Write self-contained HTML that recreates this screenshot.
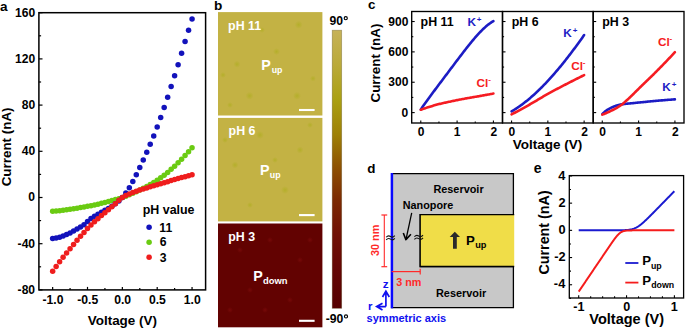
<!DOCTYPE html>
<html><head><meta charset="utf-8"><style>
html,body{margin:0;padding:0;background:#fff;overflow:hidden}
svg{display:block}
text{font-family:"Liberation Sans",sans-serif;font-weight:bold}
</style></head><body>
<svg width="685" height="329" viewBox="0 0 685 329">
<rect x="38.9" y="12.7" width="166.70" height="277.20" fill="none" stroke="#000" stroke-width="1.5"/>
<line x1="38.90" y1="289.90" x2="42.50" y2="289.90" stroke="#000" stroke-width="1.2" />
<text transform="translate(17.60 293.80)" font-size="12.1" fill="#000" >-80</text>
<line x1="38.90" y1="266.80" x2="41.10" y2="266.80" stroke="#000" stroke-width="1.2" />
<line x1="38.90" y1="243.70" x2="42.50" y2="243.70" stroke="#000" stroke-width="1.2" />
<text transform="translate(17.60 247.60)" font-size="12.1" fill="#000" >-40</text>
<line x1="38.90" y1="220.60" x2="41.10" y2="220.60" stroke="#000" stroke-width="1.2" />
<line x1="38.90" y1="197.50" x2="42.50" y2="197.50" stroke="#000" stroke-width="1.2" />
<text transform="translate(28.37 201.40)" font-size="12.1" fill="#000" >0</text>
<line x1="38.90" y1="174.40" x2="41.10" y2="174.40" stroke="#000" stroke-width="1.2" />
<line x1="38.90" y1="151.30" x2="42.50" y2="151.30" stroke="#000" stroke-width="1.2" />
<text transform="translate(21.65 155.20)" font-size="12.1" fill="#000" >40</text>
<line x1="38.90" y1="128.20" x2="41.10" y2="128.20" stroke="#000" stroke-width="1.2" />
<line x1="38.90" y1="105.10" x2="42.50" y2="105.10" stroke="#000" stroke-width="1.2" />
<text transform="translate(21.65 109.00)" font-size="12.1" fill="#000" >80</text>
<line x1="38.90" y1="82.00" x2="41.10" y2="82.00" stroke="#000" stroke-width="1.2" />
<line x1="38.90" y1="58.90" x2="42.50" y2="58.90" stroke="#000" stroke-width="1.2" />
<text transform="translate(14.94 62.80)" font-size="12.1" fill="#000" >120</text>
<line x1="38.90" y1="35.80" x2="41.10" y2="35.80" stroke="#000" stroke-width="1.2" />
<line x1="38.90" y1="12.70" x2="42.50" y2="12.70" stroke="#000" stroke-width="1.2" />
<text transform="translate(14.94 16.60)" font-size="12.1" fill="#000" >160</text>
<line x1="52.65" y1="289.90" x2="52.65" y2="286.90" stroke="#000" stroke-width="1.2" />
<text transform="translate(42.46 303.50)" font-size="12.2" fill="#000" >-1.0</text>
<line x1="70.07" y1="289.90" x2="70.07" y2="287.90" stroke="#000" stroke-width="1.2" />
<line x1="87.50" y1="289.90" x2="87.50" y2="286.90" stroke="#000" stroke-width="1.2" />
<text transform="translate(77.22 303.50)" font-size="12.2" fill="#000" >-0.5</text>
<line x1="104.92" y1="289.90" x2="104.92" y2="287.90" stroke="#000" stroke-width="1.2" />
<line x1="122.35" y1="289.90" x2="122.35" y2="286.90" stroke="#000" stroke-width="1.2" />
<text transform="translate(114.17 303.50)" font-size="12.2" fill="#000" >0.0</text>
<line x1="139.78" y1="289.90" x2="139.78" y2="287.90" stroke="#000" stroke-width="1.2" />
<line x1="157.20" y1="289.90" x2="157.20" y2="286.90" stroke="#000" stroke-width="1.2" />
<text transform="translate(148.93 303.50)" font-size="12.2" fill="#000" >0.5</text>
<line x1="174.62" y1="289.90" x2="174.62" y2="287.90" stroke="#000" stroke-width="1.2" />
<line x1="192.05" y1="289.90" x2="192.05" y2="286.90" stroke="#000" stroke-width="1.2" />
<text transform="translate(183.72 303.50)" font-size="12.2" fill="#000" >1.0</text>
<text transform="translate(11.21 186.30) scale(1.0 1) rotate(-90)" font-size="13.4" fill="#000">Current (nA)</text>
<text transform="translate(87.77 325.40)" font-size="13.45" fill="#000" >Voltage (V)</text>
<text transform="translate(-0.11 10.50)" font-size="13.6" fill="#000" >a</text>
<circle cx="52.65" cy="211.36" r="2.75" fill="#6acb12"/>
<circle cx="56.13" cy="211.04" r="2.75" fill="#6acb12"/>
<circle cx="59.62" cy="210.67" r="2.75" fill="#6acb12"/>
<circle cx="63.10" cy="210.26" r="2.75" fill="#6acb12"/>
<circle cx="66.59" cy="209.80" r="2.75" fill="#6acb12"/>
<circle cx="70.07" cy="209.30" r="2.75" fill="#6acb12"/>
<circle cx="73.56" cy="208.77" r="2.75" fill="#6acb12"/>
<circle cx="77.04" cy="208.21" r="2.75" fill="#6acb12"/>
<circle cx="80.53" cy="207.62" r="2.75" fill="#6acb12"/>
<circle cx="84.01" cy="207.01" r="2.75" fill="#6acb12"/>
<circle cx="87.50" cy="206.37" r="2.75" fill="#6acb12"/>
<circle cx="90.98" cy="205.72" r="2.75" fill="#6acb12"/>
<circle cx="94.47" cy="205.01" r="2.75" fill="#6acb12"/>
<circle cx="97.95" cy="204.23" r="2.75" fill="#6acb12"/>
<circle cx="101.44" cy="203.37" r="2.75" fill="#6acb12"/>
<circle cx="104.92" cy="202.47" r="2.75" fill="#6acb12"/>
<circle cx="108.41" cy="201.54" r="2.75" fill="#6acb12"/>
<circle cx="111.89" cy="200.58" r="2.75" fill="#6acb12"/>
<circle cx="115.38" cy="199.62" r="2.75" fill="#6acb12"/>
<circle cx="118.86" cy="198.63" r="2.75" fill="#6acb12"/>
<circle cx="122.35" cy="197.50" r="2.75" fill="#6acb12"/>
<circle cx="125.83" cy="196.21" r="2.75" fill="#6acb12"/>
<circle cx="129.32" cy="194.83" r="2.75" fill="#6acb12"/>
<circle cx="132.81" cy="193.35" r="2.75" fill="#6acb12"/>
<circle cx="136.29" cy="191.78" r="2.75" fill="#6acb12"/>
<circle cx="139.78" cy="190.10" r="2.75" fill="#6acb12"/>
<circle cx="143.26" cy="188.33" r="2.75" fill="#6acb12"/>
<circle cx="146.75" cy="186.45" r="2.75" fill="#6acb12"/>
<circle cx="150.23" cy="184.47" r="2.75" fill="#6acb12"/>
<circle cx="153.72" cy="182.38" r="2.75" fill="#6acb12"/>
<circle cx="157.20" cy="180.18" r="2.75" fill="#6acb12"/>
<circle cx="160.69" cy="177.80" r="2.75" fill="#6acb12"/>
<circle cx="164.17" cy="175.20" r="2.75" fill="#6acb12"/>
<circle cx="167.66" cy="172.38" r="2.75" fill="#6acb12"/>
<circle cx="171.14" cy="169.37" r="2.75" fill="#6acb12"/>
<circle cx="174.62" cy="166.17" r="2.75" fill="#6acb12"/>
<circle cx="178.11" cy="162.79" r="2.75" fill="#6acb12"/>
<circle cx="181.59" cy="159.26" r="2.75" fill="#6acb12"/>
<circle cx="185.08" cy="155.58" r="2.75" fill="#6acb12"/>
<circle cx="188.56" cy="151.77" r="2.75" fill="#6acb12"/>
<circle cx="192.05" cy="147.84" r="2.75" fill="#6acb12"/>
<circle cx="52.65" cy="238.62" r="2.75" fill="#1212bb"/>
<circle cx="56.13" cy="238.11" r="2.75" fill="#1212bb"/>
<circle cx="59.62" cy="237.25" r="2.75" fill="#1212bb"/>
<circle cx="63.10" cy="236.07" r="2.75" fill="#1212bb"/>
<circle cx="66.59" cy="234.61" r="2.75" fill="#1212bb"/>
<circle cx="70.07" cy="232.93" r="2.75" fill="#1212bb"/>
<circle cx="73.56" cy="231.06" r="2.75" fill="#1212bb"/>
<circle cx="77.04" cy="229.06" r="2.75" fill="#1212bb"/>
<circle cx="80.53" cy="226.96" r="2.75" fill="#1212bb"/>
<circle cx="84.01" cy="224.68" r="2.75" fill="#1212bb"/>
<circle cx="87.50" cy="221.48" r="2.75" fill="#1212bb"/>
<circle cx="90.98" cy="218.51" r="2.75" fill="#1212bb"/>
<circle cx="94.47" cy="216.19" r="2.75" fill="#1212bb"/>
<circle cx="97.95" cy="214.14" r="2.75" fill="#1212bb"/>
<circle cx="101.44" cy="212.24" r="2.75" fill="#1212bb"/>
<circle cx="104.92" cy="210.37" r="2.75" fill="#1212bb"/>
<circle cx="108.41" cy="208.42" r="2.75" fill="#1212bb"/>
<circle cx="111.89" cy="206.26" r="2.75" fill="#1212bb"/>
<circle cx="115.38" cy="203.79" r="2.75" fill="#1212bb"/>
<circle cx="118.86" cy="200.98" r="2.75" fill="#1212bb"/>
<circle cx="122.35" cy="197.50" r="2.75" fill="#1212bb"/>
<circle cx="125.83" cy="193.04" r="2.75" fill="#1212bb"/>
<circle cx="129.32" cy="187.65" r="2.75" fill="#1212bb"/>
<circle cx="132.81" cy="181.49" r="2.75" fill="#1212bb"/>
<circle cx="136.29" cy="174.71" r="2.75" fill="#1212bb"/>
<circle cx="139.78" cy="167.45" r="2.75" fill="#1212bb"/>
<circle cx="143.26" cy="159.88" r="2.75" fill="#1212bb"/>
<circle cx="146.75" cy="152.13" r="2.75" fill="#1212bb"/>
<circle cx="150.23" cy="144.37" r="2.75" fill="#1212bb"/>
<circle cx="153.72" cy="136.08" r="2.75" fill="#1212bb"/>
<circle cx="157.20" cy="127.05" r="2.75" fill="#1212bb"/>
<circle cx="160.69" cy="117.45" r="2.75" fill="#1212bb"/>
<circle cx="164.17" cy="107.41" r="2.75" fill="#1212bb"/>
<circle cx="167.66" cy="97.16" r="2.75" fill="#1212bb"/>
<circle cx="171.14" cy="86.62" r="2.75" fill="#1212bb"/>
<circle cx="174.62" cy="75.79" r="2.75" fill="#1212bb"/>
<circle cx="178.11" cy="64.67" r="2.75" fill="#1212bb"/>
<circle cx="181.59" cy="53.16" r="2.75" fill="#1212bb"/>
<circle cx="185.08" cy="41.57" r="2.75" fill="#1212bb"/>
<circle cx="188.56" cy="30.24" r="2.75" fill="#1212bb"/>
<circle cx="192.05" cy="19.05" r="2.75" fill="#1212bb"/>
<circle cx="52.65" cy="271.19" r="2.75" fill="#ef1d1d"/>
<circle cx="56.13" cy="266.47" r="2.75" fill="#ef1d1d"/>
<circle cx="59.62" cy="261.87" r="2.75" fill="#ef1d1d"/>
<circle cx="63.10" cy="257.36" r="2.75" fill="#ef1d1d"/>
<circle cx="66.59" cy="252.96" r="2.75" fill="#ef1d1d"/>
<circle cx="70.07" cy="248.66" r="2.75" fill="#ef1d1d"/>
<circle cx="73.56" cy="244.46" r="2.75" fill="#ef1d1d"/>
<circle cx="77.04" cy="240.35" r="2.75" fill="#ef1d1d"/>
<circle cx="80.53" cy="236.31" r="2.75" fill="#ef1d1d"/>
<circle cx="84.01" cy="232.38" r="2.75" fill="#ef1d1d"/>
<circle cx="87.50" cy="228.62" r="2.75" fill="#ef1d1d"/>
<circle cx="90.98" cy="225.09" r="2.75" fill="#ef1d1d"/>
<circle cx="94.47" cy="221.77" r="2.75" fill="#ef1d1d"/>
<circle cx="97.95" cy="218.63" r="2.75" fill="#ef1d1d"/>
<circle cx="101.44" cy="215.61" r="2.75" fill="#ef1d1d"/>
<circle cx="104.92" cy="212.65" r="2.75" fill="#ef1d1d"/>
<circle cx="108.41" cy="209.71" r="2.75" fill="#ef1d1d"/>
<circle cx="111.89" cy="206.75" r="2.75" fill="#ef1d1d"/>
<circle cx="115.38" cy="203.68" r="2.75" fill="#ef1d1d"/>
<circle cx="118.86" cy="200.35" r="2.75" fill="#ef1d1d"/>
<circle cx="122.35" cy="197.50" r="2.75" fill="#ef1d1d"/>
<circle cx="125.83" cy="195.50" r="2.75" fill="#ef1d1d"/>
<circle cx="129.32" cy="193.89" r="2.75" fill="#ef1d1d"/>
<circle cx="132.81" cy="192.50" r="2.75" fill="#ef1d1d"/>
<circle cx="136.29" cy="191.22" r="2.75" fill="#ef1d1d"/>
<circle cx="139.78" cy="190.05" r="2.75" fill="#ef1d1d"/>
<circle cx="143.26" cy="188.94" r="2.75" fill="#ef1d1d"/>
<circle cx="146.75" cy="187.89" r="2.75" fill="#ef1d1d"/>
<circle cx="150.23" cy="186.87" r="2.75" fill="#ef1d1d"/>
<circle cx="153.72" cy="185.84" r="2.75" fill="#ef1d1d"/>
<circle cx="157.20" cy="184.79" r="2.75" fill="#ef1d1d"/>
<circle cx="160.69" cy="183.73" r="2.75" fill="#ef1d1d"/>
<circle cx="164.17" cy="182.68" r="2.75" fill="#ef1d1d"/>
<circle cx="167.66" cy="181.64" r="2.75" fill="#ef1d1d"/>
<circle cx="171.14" cy="180.62" r="2.75" fill="#ef1d1d"/>
<circle cx="174.62" cy="179.60" r="2.75" fill="#ef1d1d"/>
<circle cx="178.11" cy="178.60" r="2.75" fill="#ef1d1d"/>
<circle cx="181.59" cy="177.62" r="2.75" fill="#ef1d1d"/>
<circle cx="185.08" cy="176.65" r="2.75" fill="#ef1d1d"/>
<circle cx="188.56" cy="175.69" r="2.75" fill="#ef1d1d"/>
<circle cx="192.05" cy="174.75" r="2.75" fill="#ef1d1d"/>
<text transform="translate(142.69 213.90)" font-size="12.45" fill="#000" >pH value</text>
<circle cx="149.1" cy="227.3" r="2.75" fill="#1212bb"/>
<text transform="translate(159.31 231.50)" font-size="12.2" fill="#000" >11</text>
<circle cx="149.1" cy="242.2" r="2.75" fill="#6acb12"/>
<text transform="translate(159.67 246.40)" font-size="12.2" fill="#000" >6</text>
<circle cx="149.1" cy="257.3" r="2.75" fill="#ef1d1d"/>
<text transform="translate(159.79 261.50)" font-size="12.2" fill="#000" >3</text>
<rect x="218.0" y="12.1" width="104.40" height="103.40" fill="#c3b244"/>
<rect x="218.0" y="117.9" width="104.40" height="103.50" fill="#c3b244"/>
<rect x="218.0" y="223.5" width="104.40" height="103.80" fill="#620201"/>
<defs><radialGradient id="sg"><stop offset="0" stop-color="#a6ac10" stop-opacity="0.5"/><stop offset="1" stop-color="#a6ac10" stop-opacity="0"/></radialGradient><radialGradient id="sr"><stop offset="0" stop-color="#8a1010" stop-opacity="0.5"/><stop offset="1" stop-color="#8a1010" stop-opacity="0"/></radialGradient></defs>
<circle cx="298.7" cy="24.7" r="4" fill="url(#sg)"/>
<circle cx="276.5" cy="51.6" r="3.5" fill="url(#sg)"/>
<circle cx="237" cy="64.2" r="3.5" fill="url(#sg)"/>
<circle cx="313" cy="78.5" r="3" fill="url(#sg)"/>
<circle cx="249.6" cy="95.8" r="4" fill="url(#sg)"/>
<circle cx="297" cy="95.8" r="4" fill="url(#sg)"/>
<circle cx="223" cy="75" r="3" fill="url(#sg)"/>
<circle cx="262" cy="30" r="3" fill="url(#sg)"/>
<circle cx="230" cy="105" r="3" fill="url(#sg)"/>
<circle cx="260" cy="135" r="4" fill="url(#sg)"/>
<circle cx="300" cy="150" r="3.5" fill="url(#sg)"/>
<circle cx="235" cy="165" r="3.5" fill="url(#sg)"/>
<circle cx="285" cy="190" r="4" fill="url(#sg)"/>
<circle cx="250" cy="205" r="3" fill="url(#sg)"/>
<circle cx="310" cy="125" r="3" fill="url(#sg)"/>
<circle cx="225" cy="140" r="3" fill="url(#sg)"/>
<circle cx="275" cy="160" r="3" fill="url(#sg)"/>
<circle cx="240" cy="250" r="3" fill="url(#sr)"/>
<circle cx="270" cy="240" r="3" fill="url(#sr)"/>
<circle cx="300" cy="260" r="3" fill="url(#sr)"/>
<circle cx="250" cy="290" r="3" fill="url(#sr)"/>
<circle cx="290" cy="300" r="3" fill="url(#sr)"/>
<circle cx="230" cy="310" r="3" fill="url(#sr)"/>
<circle cx="310" cy="240" r="3" fill="url(#sr)"/>
<circle cx="265" cy="310" r="3" fill="url(#sr)"/>
<text transform="translate(228.09 29.70)" font-size="12.4" fill="#fff" >pH 11</text>
<text transform="translate(228.59 134.80)" font-size="12.4" fill="#fff" >pH 6</text>
<text transform="translate(228.19 241.00)" font-size="12.4" fill="#fff" >pH 3</text>
<text transform="translate(261.37 69.80)" font-size="14.3" fill="#fff" >P</text>
<text transform="translate(271.67 73.10)" font-size="8.8" fill="#fff" >up</text>
<text transform="translate(259.97 174.60)" font-size="14.3" fill="#fff" >P</text>
<text transform="translate(269.77 178.10)" font-size="8.8" fill="#fff" >up</text>
<text transform="translate(253.27 280.60)" font-size="14.3" fill="#fff" >P</text>
<text transform="translate(263.02 284.00)" font-size="9.4" fill="#fff" >down</text>
<line x1="299.00" y1="110.00" x2="314.60" y2="110.00" stroke="#fff" stroke-width="2.1" />
<line x1="299.00" y1="215.10" x2="314.60" y2="215.10" stroke="#fff" stroke-width="2.1" />
<line x1="299.00" y1="320.80" x2="314.60" y2="320.80" stroke="#fff" stroke-width="2.1" />
<defs><linearGradient id="cb" x1="0" y1="0" x2="0" y2="1"><stop offset="0" stop-color="rgb(198,178,88)"/><stop offset="0.126" stop-color="rgb(186,170,58)"/><stop offset="0.25" stop-color="rgb(170,160,18)"/><stop offset="0.376" stop-color="rgb(158,128,6)"/><stop offset="0.5" stop-color="rgb(140,78,2)"/><stop offset="0.61" stop-color="rgb(124,42,2)"/><stop offset="0.735" stop-color="rgb(112,16,4)"/><stop offset="0.86" stop-color="rgb(100,5,4)"/><stop offset="1" stop-color="rgb(86,0,0)"/></linearGradient></defs>
<rect x="332.2" y="30.2" width="9.5" height="278.1" fill="url(#cb)" stroke="rgba(90,80,40,0.45)" stroke-width="0.7"/>
<text transform="translate(329.45 24.60)" font-size="12.2" fill="#000" >90</text>
<text transform="translate(325.76 322.50)" font-size="12.2" fill="#000" >-90</text>
<circle cx="345.75" cy="18.2" r="1.55" fill="none" stroke="#000" stroke-width="1.15"/>
<circle cx="346.0" cy="316.4" r="1.55" fill="none" stroke="#000" stroke-width="1.15"/>
<text transform="translate(213.92 10.30)" font-size="13.6" fill="#000" >b</text>
<rect x="411.7" y="11.5" width="90.80" height="111.50" fill="none" stroke="#000" stroke-width="1.35"/>
<rect x="502.5" y="11.5" width="90.70" height="111.50" fill="none" stroke="#000" stroke-width="1.35"/>
<rect x="593.2" y="11.5" width="90.80" height="111.50" fill="none" stroke="#000" stroke-width="1.35"/>
<line x1="411.70" y1="112.60" x2="414.70" y2="112.60" stroke="#000" stroke-width="1.1" />
<line x1="411.70" y1="97.42" x2="413.30" y2="97.42" stroke="#000" stroke-width="1.1" />
<line x1="411.70" y1="82.24" x2="414.70" y2="82.24" stroke="#000" stroke-width="1.1" />
<line x1="411.70" y1="67.06" x2="413.30" y2="67.06" stroke="#000" stroke-width="1.1" />
<line x1="411.70" y1="51.88" x2="414.70" y2="51.88" stroke="#000" stroke-width="1.1" />
<line x1="411.70" y1="36.70" x2="413.30" y2="36.70" stroke="#000" stroke-width="1.1" />
<line x1="411.70" y1="21.52" x2="414.70" y2="21.52" stroke="#000" stroke-width="1.1" />
<line x1="420.78" y1="123.00" x2="420.78" y2="120.40" stroke="#000" stroke-width="1.1" />
<text transform="translate(417.75 135.90)" font-size="12.0" fill="#000" >0</text>
<line x1="438.94" y1="123.00" x2="438.94" y2="121.40" stroke="#000" stroke-width="1.1" />
<line x1="457.10" y1="123.00" x2="457.10" y2="120.40" stroke="#000" stroke-width="1.1" />
<text transform="translate(453.83 135.90)" font-size="12.0" fill="#000" >1</text>
<line x1="475.26" y1="123.00" x2="475.26" y2="121.40" stroke="#000" stroke-width="1.1" />
<line x1="493.42" y1="123.00" x2="493.42" y2="120.40" stroke="#000" stroke-width="1.1" />
<text transform="translate(490.42 135.90)" font-size="12.0" fill="#000" >2</text>
<line x1="502.50" y1="112.60" x2="505.50" y2="112.60" stroke="#000" stroke-width="1.1" />
<line x1="502.50" y1="97.42" x2="504.10" y2="97.42" stroke="#000" stroke-width="1.1" />
<line x1="502.50" y1="82.24" x2="505.50" y2="82.24" stroke="#000" stroke-width="1.1" />
<line x1="502.50" y1="67.06" x2="504.10" y2="67.06" stroke="#000" stroke-width="1.1" />
<line x1="502.50" y1="51.88" x2="505.50" y2="51.88" stroke="#000" stroke-width="1.1" />
<line x1="502.50" y1="36.70" x2="504.10" y2="36.70" stroke="#000" stroke-width="1.1" />
<line x1="502.50" y1="21.52" x2="505.50" y2="21.52" stroke="#000" stroke-width="1.1" />
<line x1="511.57" y1="123.00" x2="511.57" y2="120.40" stroke="#000" stroke-width="1.1" />
<text transform="translate(508.54 135.90)" font-size="12.0" fill="#000" >0</text>
<line x1="529.71" y1="123.00" x2="529.71" y2="121.40" stroke="#000" stroke-width="1.1" />
<line x1="547.85" y1="123.00" x2="547.85" y2="120.40" stroke="#000" stroke-width="1.1" />
<text transform="translate(544.58 135.90)" font-size="12.0" fill="#000" >1</text>
<line x1="565.99" y1="123.00" x2="565.99" y2="121.40" stroke="#000" stroke-width="1.1" />
<line x1="584.13" y1="123.00" x2="584.13" y2="120.40" stroke="#000" stroke-width="1.1" />
<text transform="translate(581.13 135.90)" font-size="12.0" fill="#000" >2</text>
<line x1="593.20" y1="112.60" x2="596.20" y2="112.60" stroke="#000" stroke-width="1.1" />
<line x1="593.20" y1="97.42" x2="594.80" y2="97.42" stroke="#000" stroke-width="1.1" />
<line x1="593.20" y1="82.24" x2="596.20" y2="82.24" stroke="#000" stroke-width="1.1" />
<line x1="593.20" y1="67.06" x2="594.80" y2="67.06" stroke="#000" stroke-width="1.1" />
<line x1="593.20" y1="51.88" x2="596.20" y2="51.88" stroke="#000" stroke-width="1.1" />
<line x1="593.20" y1="36.70" x2="594.80" y2="36.70" stroke="#000" stroke-width="1.1" />
<line x1="593.20" y1="21.52" x2="596.20" y2="21.52" stroke="#000" stroke-width="1.1" />
<line x1="602.28" y1="123.00" x2="602.28" y2="120.40" stroke="#000" stroke-width="1.1" />
<text transform="translate(599.25 135.90)" font-size="12.0" fill="#000" >0</text>
<line x1="620.44" y1="123.00" x2="620.44" y2="121.40" stroke="#000" stroke-width="1.1" />
<line x1="638.60" y1="123.00" x2="638.60" y2="120.40" stroke="#000" stroke-width="1.1" />
<text transform="translate(635.33 135.90)" font-size="12.0" fill="#000" >1</text>
<line x1="656.76" y1="123.00" x2="656.76" y2="121.40" stroke="#000" stroke-width="1.1" />
<line x1="674.92" y1="123.00" x2="674.92" y2="120.40" stroke="#000" stroke-width="1.1" />
<text transform="translate(671.92 135.90)" font-size="12.0" fill="#000" >2</text>
<text transform="translate(401.62 116.60)" font-size="12.0" fill="#000" >0</text>
<text transform="translate(388.30 86.24)" font-size="12.0" fill="#000" >300</text>
<text transform="translate(388.30 55.88)" font-size="12.0" fill="#000" >600</text>
<text transform="translate(388.30 25.52)" font-size="12.0" fill="#000" >900</text>
<text transform="translate(379.91 102.50) scale(1.0 1) rotate(-90)" font-size="13.4" fill="#000">Current (nA)</text>
<text transform="translate(512.76 149.10)" font-size="13.5" fill="#000" >Voltage (V)</text>
<text transform="translate(367.96 9.00)" font-size="13.4" fill="#000" >c</text>
<polyline points="420.78,109.43 421.69,108.12 422.60,106.82 423.50,105.54 424.41,104.26 425.32,102.99 426.23,101.73 427.14,100.47 428.04,99.23 428.95,97.98 429.86,96.75 430.77,95.51 431.68,94.28 432.58,93.06 433.49,91.84 434.40,90.62 435.31,89.40 436.22,88.19 437.12,86.98 438.03,85.76 438.94,84.55 439.85,83.34 440.76,82.14 441.66,80.93 442.57,79.72 443.48,78.51 444.39,77.30 445.30,76.09 446.20,74.88 447.11,73.67 448.02,72.46 448.93,71.26 449.84,70.05 450.74,68.84 451.65,67.63 452.56,66.42 453.47,65.21 454.38,64.00 455.28,62.80 456.19,61.59 457.10,60.39 458.01,59.19 458.92,57.99 459.82,56.80 460.73,55.61 461.64,54.42 462.55,53.23 463.46,52.05 464.36,50.88 465.27,49.71 466.18,48.55 467.09,47.40 468.00,46.25 468.90,45.11 469.81,43.99 470.72,42.87 471.63,41.76 472.54,40.67 473.44,39.59 474.35,38.52 475.26,37.46 476.17,36.42 477.08,35.40 477.98,34.40 478.89,33.41 479.80,32.44 480.71,31.50 481.62,30.57 482.52,29.67 483.43,28.79 484.34,27.94 485.25,27.12 486.16,26.32 487.06,25.55 487.97,24.82 488.88,24.11 489.79,23.44 490.70,22.80 491.60,22.20 492.51,21.64 493.42,21.11" fill="none" stroke="#1c1cc4" stroke-width="2.6" stroke-linecap="round" stroke-linejoin="round"/>
<polyline points="420.78,109.77 421.69,109.44 422.60,109.13 423.50,108.81 424.41,108.50 425.32,108.20 426.23,107.89 427.14,107.60 428.04,107.30 428.95,107.01 429.86,106.73 430.77,106.45 431.68,106.17 432.58,105.89 433.49,105.62 434.40,105.35 435.31,105.09 436.22,104.83 437.12,104.58 438.03,104.33 438.94,104.10 439.85,103.87 440.76,103.65 441.66,103.43 442.57,103.22 443.48,103.02 444.39,102.81 445.30,102.61 446.20,102.42 447.11,102.22 448.02,102.03 448.93,101.84 449.84,101.65 450.74,101.46 451.65,101.27 452.56,101.08 453.47,100.89 454.38,100.70 455.28,100.51 456.19,100.33 457.10,100.14 458.01,99.96 458.92,99.78 459.82,99.60 460.73,99.43 461.64,99.25 462.55,99.08 463.46,98.91 464.36,98.74 465.27,98.57 466.18,98.40 467.09,98.24 468.00,98.08 468.90,97.92 469.81,97.77 470.72,97.61 471.63,97.46 472.54,97.30 473.44,97.15 474.35,96.99 475.26,96.84 476.17,96.68 477.08,96.52 477.98,96.37 478.89,96.21 479.80,96.04 480.71,95.88 481.62,95.72 482.52,95.56 483.43,95.39 484.34,95.23 485.25,95.07 486.16,94.90 487.06,94.74 487.97,94.57 488.88,94.41 489.79,94.24 490.70,94.08 491.60,93.91 492.51,93.74 493.42,93.57" fill="none" stroke="#f51c22" stroke-width="2.6" stroke-linecap="round" stroke-linejoin="round"/>
<polyline points="511.57,111.37 512.48,110.84 513.38,110.30 514.29,109.74 515.20,109.18 516.11,108.59 517.01,108.00 517.92,107.39 518.83,106.78 519.73,106.14 520.64,105.50 521.55,104.85 522.45,104.18 523.36,103.50 524.27,102.81 525.17,102.10 526.08,101.39 526.99,100.66 527.90,99.92 528.80,99.17 529.71,98.41 530.62,97.63 531.52,96.85 532.43,96.05 533.34,95.24 534.25,94.43 535.15,93.60 536.06,92.76 536.97,91.91 537.87,91.04 538.78,90.17 539.69,89.29 540.59,88.40 541.50,87.49 542.41,86.58 543.32,85.66 544.22,84.72 545.13,83.78 546.04,82.83 546.94,81.86 547.85,80.89 548.76,79.91 549.66,78.92 550.57,77.92 551.48,76.90 552.38,75.89 553.29,74.86 554.20,73.82 555.11,72.77 556.01,71.72 556.92,70.65 557.83,69.58 558.73,68.50 559.64,67.41 560.55,66.31 561.46,65.20 562.36,64.09 563.27,62.96 564.18,61.83 565.08,60.69 565.99,59.54 566.90,58.39 567.80,57.23 568.71,56.06 569.62,54.88 570.53,53.69 571.43,52.50 572.34,51.30 573.25,50.09 574.15,48.88 575.06,47.66 575.97,46.43 576.87,45.20 577.78,43.96 578.69,42.71 579.60,41.45 580.50,40.19 581.41,38.92 582.32,37.65 583.22,36.37 584.13,35.09" fill="none" stroke="#1c1cc4" stroke-width="2.6" stroke-linecap="round" stroke-linejoin="round"/>
<polyline points="511.57,114.42 512.48,113.94 513.38,113.46 514.29,112.98 515.20,112.49 516.11,112.01 517.01,111.52 517.92,111.03 518.83,110.54 519.73,110.04 520.64,109.55 521.55,109.05 522.45,108.55 523.36,108.05 524.27,107.55 525.17,107.05 526.08,106.54 526.99,106.04 527.90,105.53 528.80,105.02 529.71,104.50 530.62,103.99 531.52,103.47 532.43,102.94 533.34,102.41 534.25,101.87 535.15,101.34 536.06,100.80 536.97,100.26 537.87,99.71 538.78,99.17 539.69,98.63 540.59,98.09 541.50,97.55 542.41,97.01 543.32,96.48 544.22,95.95 545.13,95.42 546.04,94.90 546.94,94.39 547.85,93.88 548.76,93.37 549.66,92.88 550.57,92.38 551.48,91.89 552.38,91.39 553.29,90.91 554.20,90.42 555.11,89.94 556.01,89.46 556.92,88.98 557.83,88.50 558.73,88.03 559.64,87.55 560.55,87.08 561.46,86.61 562.36,86.14 563.27,85.67 564.18,85.20 565.08,84.73 565.99,84.26 566.90,83.80 567.80,83.33 568.71,82.87 569.62,82.40 570.53,81.94 571.43,81.48 572.34,81.02 573.25,80.56 574.15,80.10 575.06,79.65 575.97,79.19 576.87,78.74 577.78,78.29 578.69,77.84 579.60,77.39 580.50,76.94 581.41,76.49 582.32,76.04 583.22,75.60 584.13,75.16" fill="none" stroke="#f51c22" stroke-width="2.6" stroke-linecap="round" stroke-linejoin="round"/>
<polyline points="602.28,114.12 603.19,113.23 604.10,112.38 605.00,111.58 605.91,110.84 606.82,110.19 607.73,109.61 608.64,109.06 609.54,108.55 610.45,108.08 611.36,107.63 612.27,107.22 613.18,106.83 614.08,106.47 614.99,106.12 615.90,105.79 616.81,105.47 617.72,105.17 618.62,104.91 619.53,104.68 620.44,104.50 621.35,104.36 622.26,104.22 623.16,104.10 624.07,103.99 624.98,103.88 625.89,103.79 626.80,103.70 627.70,103.61 628.61,103.53 629.52,103.45 630.43,103.37 631.34,103.29 632.24,103.20 633.15,103.11 634.06,103.02 634.97,102.93 635.88,102.83 636.78,102.74 637.69,102.65 638.60,102.56 639.51,102.46 640.42,102.37 641.32,102.28 642.23,102.20 643.14,102.11 644.05,102.02 644.96,101.93 645.86,101.84 646.77,101.75 647.68,101.67 648.59,101.58 649.50,101.49 650.40,101.41 651.31,101.32 652.22,101.23 653.13,101.15 654.04,101.06 654.94,100.98 655.85,100.90 656.76,100.81 657.67,100.73 658.58,100.65 659.48,100.57 660.39,100.49 661.30,100.42 662.21,100.34 663.12,100.27 664.02,100.19 664.93,100.12 665.84,100.04 666.75,99.97 667.66,99.90 668.56,99.82 669.47,99.75 670.38,99.68 671.29,99.61 672.20,99.54 673.10,99.48 674.01,99.41 674.92,99.34" fill="none" stroke="#1c1cc4" stroke-width="2.6" stroke-linecap="round" stroke-linejoin="round"/>
<polyline points="602.28,114.62 603.19,114.29 604.10,113.94 605.00,113.57 605.91,113.19 606.82,112.80 607.73,112.40 608.64,111.98 609.54,111.56 610.45,111.12 611.36,110.68 612.27,110.23 613.18,109.77 614.08,109.30 614.99,108.82 615.90,108.32 616.81,107.80 617.72,107.27 618.62,106.71 619.53,106.13 620.44,105.52 621.35,104.87 622.26,104.17 623.16,103.43 624.07,102.67 624.98,101.88 625.89,101.07 626.80,100.26 627.70,99.44 628.61,98.62 629.52,97.77 630.43,96.91 631.34,96.03 632.24,95.14 633.15,94.24 634.06,93.33 634.97,92.42 635.88,91.52 636.78,90.61 637.69,89.71 638.60,88.82 639.51,87.93 640.42,87.05 641.32,86.17 642.23,85.29 643.14,84.42 644.05,83.54 644.96,82.67 645.86,81.79 646.77,80.91 647.68,80.04 648.59,79.16 649.50,78.28 650.40,77.39 651.31,76.51 652.22,75.62 653.13,74.73 654.04,73.83 654.94,72.93 655.85,72.02 656.76,71.11 657.67,70.19 658.58,69.27 659.48,68.35 660.39,67.42 661.30,66.49 662.21,65.56 663.12,64.63 664.02,63.69 664.93,62.75 665.84,61.80 666.75,60.85 667.66,59.90 668.56,58.95 669.47,57.99 670.38,57.03 671.29,56.07 672.20,55.10 673.10,54.13 674.01,53.16 674.92,52.18" fill="none" stroke="#f51c22" stroke-width="2.6" stroke-linecap="round" stroke-linejoin="round"/>
<text transform="translate(420.59 25.80)" font-size="12.4" fill="#000" >pH 11</text>
<text transform="translate(511.79 25.80)" font-size="12.4" fill="#000" >pH 6</text>
<text transform="translate(602.19 25.80)" font-size="12.4" fill="#000" >pH 3</text>
<text transform="translate(467.43 26.30)" font-size="11.8" fill="#1c1cc4" >K</text>
<text transform="translate(476.86 21.70)" font-size="8.0" fill="#1c1cc4" >+</text>
<text transform="translate(563.23 37.30)" font-size="11.8" fill="#1c1cc4" >K</text>
<text transform="translate(572.66 32.70)" font-size="8.0" fill="#1c1cc4" >+</text>
<text transform="translate(662.23 91.40)" font-size="11.8" fill="#1c1cc4" >K</text>
<text transform="translate(671.66 86.80)" font-size="8.0" fill="#1c1cc4" >+</text>
<text transform="translate(476.53 86.60)" font-size="11.8" fill="#f51c22" >Cl</text>
<text transform="translate(488.20 82.00)" font-size="8.0" fill="#f51c22" >-</text>
<text transform="translate(571.13 69.60)" font-size="11.8" fill="#f51c22" >Cl</text>
<text transform="translate(582.79 65.00)" font-size="8.0" fill="#f51c22" >-</text>
<text transform="translate(657.93 45.80)" font-size="11.8" fill="#f51c22" >Cl</text>
<text transform="translate(669.59 41.20)" font-size="8.0" fill="#f51c22" >-</text>
<path d="M391.8,173.6 H513.4 V214.6 H420.2 V266.5 H513.4 V307.7 H391.8 Z" fill="#c8c8c8" stroke="#000" stroke-width="1.3"/>
<rect x="420.2" y="214.6" width="94" height="51.9" fill="#f0dd48"/>
<path d="M514.2,214.6 H420.2 V266.5 H514.2" fill="none" stroke="#000" stroke-width="1.3"/>
<line x1="391.90" y1="173.00" x2="391.90" y2="308.30" stroke="#0a0aff" stroke-width="2.5" />
<text transform="translate(367.16 172.80)" font-size="13.4" fill="#000" >d</text>
<text transform="translate(433.39 192.70)" font-size="10.9" fill="#000" >Reservoir</text>
<text transform="translate(435.99 296.90)" font-size="10.9" fill="#000" >Reservoir</text>
<text transform="translate(402.80 208.90)" font-size="10.8" fill="#000" >Nanopore</text>
<line x1="411.70" y1="212.90" x2="406.20" y2="238.50" stroke="#000" stroke-width="1.25" />
<path d="M403.3,233.0 L405.9,239.6 L410.9,234.2" fill="none" stroke="#000" stroke-width="1.6" stroke-linejoin="round"/>
<path d="M386.20,237.25 C387.66,235.45 389.04,235.45 390.50,236.45 S393.34,237.45 394.80,235.65" fill="none" stroke="#111" stroke-width="1.15"/>
<path d="M386.20,239.95 C387.66,238.15 389.04,238.15 390.50,239.15 S393.34,240.15 394.80,238.35" fill="none" stroke="#111" stroke-width="1.15"/>
<path d="M414.40,236.75 C415.86,234.95 417.24,234.95 418.70,235.95 S421.54,236.95 423.00,235.15" fill="none" stroke="#111" stroke-width="1.15"/>
<path d="M414.40,239.45 C415.86,237.65 417.24,237.65 418.70,238.65 S421.54,239.65 423.00,237.85" fill="none" stroke="#111" stroke-width="1.15"/>
<path d="M454.8,231.8 L460,237 L456.8,237 L456.8,248.8 L453,248.8 L453,237 L449.7,237 Z" fill="#2a2a2a"/>
<text transform="translate(466.04 244.90)" font-size="13.2" fill="#000" >P</text>
<text transform="translate(475.15 247.80)" font-size="9.2" fill="#000" >up</text>
<line x1="384.30" y1="215.00" x2="384.30" y2="266.70" stroke="#ff2a2a" stroke-width="1.1" />
<line x1="381.40" y1="215.00" x2="387.20" y2="215.00" stroke="#ff2a2a" stroke-width="1.2" />
<line x1="381.40" y1="266.70" x2="387.20" y2="266.70" stroke="#ff2a2a" stroke-width="1.2" />
<line x1="391.60" y1="271.60" x2="420.20" y2="271.60" stroke="#ff2a2a" stroke-width="1.2" />
<line x1="420.20" y1="268.80" x2="420.20" y2="274.40" stroke="#ff2a2a" stroke-width="1.2" />
<text transform="translate(378.56 255.89) scale(1.0 1) rotate(-90)" font-size="10.8" fill="#ff2a2a">30 nm</text>
<text transform="translate(396.23 286.40)" font-size="10.8" fill="#ff2a2a" >3 nm</text>
<text transform="translate(382.73 287.70)" font-size="11.8" fill="#1010f0" >z</text>
<text transform="translate(367.95 309.80)" font-size="11.5" fill="#1010f0" >r</text>
<path d="M385.9,306.6 V291.6 M382.5,297.0 L385.9,291.2 L389.3,297.0 M385.9,306.6 H377.0 M382.5,303.3 L376.7,306.6 L382.5,309.9" fill="none" stroke="#1010f0" stroke-width="1.7" stroke-linejoin="miter"/>
<text transform="translate(366.62 321.50)" font-size="11.0" fill="#1010f0" >symmetric axis</text>
<rect x="569.3" y="175.6" width="114.30" height="122.40" fill="none" stroke="#000" stroke-width="1.3"/>
<line x1="569.30" y1="298.35" x2="571.00" y2="298.35" stroke="#000" stroke-width="1.1" />
<line x1="569.30" y1="284.75" x2="572.10" y2="284.75" stroke="#000" stroke-width="1.1" />
<text transform="translate(553.87 288.35)" font-size="12.8" fill="#000" >-4</text>
<line x1="569.30" y1="271.15" x2="571.00" y2="271.15" stroke="#000" stroke-width="1.1" />
<line x1="569.30" y1="257.55" x2="572.10" y2="257.55" stroke="#000" stroke-width="1.1" />
<text transform="translate(554.32 261.15)" font-size="12.8" fill="#000" >-2</text>
<line x1="569.30" y1="243.95" x2="571.00" y2="243.95" stroke="#000" stroke-width="1.1" />
<line x1="569.30" y1="230.35" x2="572.10" y2="230.35" stroke="#000" stroke-width="1.1" />
<text transform="translate(558.61 233.95)" font-size="12.8" fill="#000" >0</text>
<line x1="569.30" y1="216.75" x2="571.00" y2="216.75" stroke="#000" stroke-width="1.1" />
<line x1="569.30" y1="203.15" x2="572.10" y2="203.15" stroke="#000" stroke-width="1.1" />
<text transform="translate(558.61 206.75)" font-size="12.8" fill="#000" >2</text>
<line x1="569.30" y1="189.55" x2="571.00" y2="189.55" stroke="#000" stroke-width="1.1" />
<line x1="569.30" y1="175.95" x2="572.10" y2="175.95" stroke="#000" stroke-width="1.1" />
<text transform="translate(558.16 179.55)" font-size="12.8" fill="#000" >4</text>
<line x1="578.70" y1="298.00" x2="578.70" y2="295.20" stroke="#000" stroke-width="1.1" />
<text transform="translate(573.20 311.40)" font-size="12.6" fill="#000" >-1</text>
<line x1="590.66" y1="298.00" x2="590.66" y2="296.30" stroke="#000" stroke-width="1.1" />
<line x1="602.62" y1="298.00" x2="602.62" y2="296.30" stroke="#000" stroke-width="1.1" />
<line x1="614.59" y1="298.00" x2="614.59" y2="296.30" stroke="#000" stroke-width="1.1" />
<line x1="626.55" y1="298.00" x2="626.55" y2="295.20" stroke="#000" stroke-width="1.1" />
<text transform="translate(623.25 311.40)" font-size="12.6" fill="#000" >0</text>
<line x1="638.51" y1="298.00" x2="638.51" y2="296.30" stroke="#000" stroke-width="1.1" />
<line x1="650.47" y1="298.00" x2="650.47" y2="296.30" stroke="#000" stroke-width="1.1" />
<line x1="662.44" y1="298.00" x2="662.44" y2="296.30" stroke="#000" stroke-width="1.1" />
<line x1="674.40" y1="298.00" x2="674.40" y2="295.20" stroke="#000" stroke-width="1.1" />
<text transform="translate(670.85 311.40)" font-size="12.6" fill="#000" >1</text>
<text transform="translate(548.97 274.54) scale(1.0 1) rotate(-90)" font-size="14.3" fill="#000">Current (nA)</text>
<text transform="translate(589.36 324.30)" font-size="14.5" fill="#000" >Voltage (V)</text>
<text transform="translate(533.74 173.20)" font-size="14.0" fill="#000" >e</text>
<polyline points="578.70,230.35 579.30,230.35 579.90,230.35 580.49,230.35 581.09,230.35 581.69,230.35 582.29,230.35 582.89,230.35 583.48,230.35 584.08,230.35 584.68,230.35 585.28,230.35 585.88,230.35 586.48,230.35 587.07,230.35 587.67,230.35 588.27,230.35 588.87,230.35 589.47,230.35 590.06,230.35 590.66,230.35 591.26,230.35 591.86,230.35 592.46,230.35 593.05,230.35 593.65,230.35 594.25,230.35 594.85,230.35 595.45,230.35 596.05,230.35 596.64,230.35 597.24,230.35 597.84,230.35 598.44,230.35 599.04,230.35 599.63,230.35 600.23,230.35 600.83,230.35 601.43,230.35 602.03,230.35 602.62,230.35 603.22,230.35 603.82,230.35 604.42,230.35 605.02,230.35 605.62,230.35 606.21,230.35 606.81,230.35 607.41,230.35 608.01,230.35 608.61,230.35 609.20,230.35 609.80,230.35 610.40,230.35 611.00,230.34 611.60,230.34 612.19,230.34 612.79,230.34 613.39,230.34 613.99,230.34 614.59,230.34 615.19,230.33 615.78,230.33 616.38,230.33 616.98,230.32 617.58,230.32 618.18,230.31 618.77,230.31 619.37,230.30 619.97,230.29 620.57,230.28 621.17,230.27 621.76,230.26 622.36,230.24 622.96,230.23 623.56,230.21 624.16,230.18 624.76,230.15 625.35,230.12 625.95,230.08 626.55,230.04 627.15,229.99 627.75,229.93 628.34,229.87 628.94,229.79 629.54,229.70 630.14,229.60 630.74,229.49 631.33,229.36 631.93,229.22 632.53,229.06 633.13,228.87 633.73,228.67 634.33,228.45 634.92,228.20 635.52,227.93 636.12,227.64 636.72,227.32 637.32,226.98 637.91,226.61 638.51,226.22 639.11,225.81 639.71,225.38 640.31,224.93 640.90,224.47 641.50,223.98 642.10,223.48 642.70,222.97 643.30,222.45 643.90,221.91 644.49,221.37 645.09,220.81 645.69,220.25 646.29,219.68 646.89,219.11 647.48,218.53 648.08,217.94 648.68,217.35 649.28,216.76 649.88,216.17 650.47,215.57 651.07,214.97 651.67,214.37 652.27,213.77 652.87,213.17 653.47,212.56 654.06,211.95 654.66,211.35 655.26,210.74 655.86,210.13 656.46,209.52 657.05,208.91 657.65,208.30 658.25,207.69 658.85,207.08 659.45,206.47 660.04,205.86 660.64,205.25 661.24,204.64 661.84,204.03 662.44,203.42 663.04,202.81 663.63,202.20 664.23,201.58 664.83,200.97 665.43,200.36 666.03,199.75 666.62,199.14 667.22,198.52 667.82,197.91 668.42,197.30 669.02,196.69 669.62,196.08 670.21,195.47 670.81,194.85 671.41,194.24 672.01,193.63 672.61,193.02 673.20,192.41 673.80,191.79 674.40,191.18" fill="none" stroke="#1a1ad0" stroke-width="2.0" stroke-linejoin="round"/>
<polyline points="578.70,291.66 579.30,290.78 579.90,289.90 580.49,289.01 581.09,288.13 581.69,287.24 582.29,286.36 582.89,285.48 583.48,284.59 584.08,283.71 584.68,282.82 585.28,281.94 585.88,281.06 586.48,280.17 587.07,279.29 587.67,278.40 588.27,277.52 588.87,276.64 589.47,275.75 590.06,274.87 590.66,273.98 591.26,273.10 591.86,272.22 592.46,271.33 593.05,270.45 593.65,269.56 594.25,268.68 594.85,267.80 595.45,266.91 596.05,266.03 596.64,265.14 597.24,264.26 597.84,263.38 598.44,262.49 599.04,261.61 599.63,260.72 600.23,259.84 600.83,258.96 601.43,258.07 602.03,257.19 602.62,256.31 603.22,255.42 603.82,254.54 604.42,253.66 605.02,252.77 605.62,251.89 606.21,251.01 606.81,250.13 607.41,249.25 608.01,248.37 608.61,247.49 609.20,246.62 609.80,245.74 610.40,244.87 611.00,244.00 611.60,243.14 612.19,242.28 612.79,241.43 613.39,240.59 613.99,239.76 614.59,238.95 615.19,238.15 615.78,237.38 616.38,236.63 616.98,235.91 617.58,235.23 618.18,234.59 618.77,234.00 619.37,233.45 619.97,232.96 620.57,232.53 621.17,232.15 621.76,231.82 622.36,231.55 622.96,231.31 623.56,231.12 624.16,230.97 624.76,230.84 625.35,230.74 625.95,230.65 626.55,230.59 627.15,230.54 627.75,230.50 628.34,230.46 628.94,230.44 629.54,230.42 630.14,230.40 630.74,230.39 631.33,230.38 631.93,230.38 632.53,230.37 633.13,230.37 633.73,230.36 634.33,230.36 634.92,230.36 635.52,230.36 636.12,230.35 636.72,230.35 637.32,230.35 637.91,230.35 638.51,230.35 639.11,230.35 639.71,230.35 640.31,230.35 640.90,230.35 641.50,230.35 642.10,230.35 642.70,230.35 643.30,230.35 643.90,230.35 644.49,230.35 645.09,230.35 645.69,230.35 646.29,230.35 646.89,230.35 647.48,230.35 648.08,230.35 648.68,230.35 649.28,230.35 649.88,230.35 650.47,230.35 651.07,230.35 651.67,230.35 652.27,230.35 652.87,230.35 653.47,230.35 654.06,230.35 654.66,230.35 655.26,230.35 655.86,230.35 656.46,230.35 657.05,230.35 657.65,230.35 658.25,230.35 658.85,230.35 659.45,230.35 660.04,230.35 660.64,230.35 661.24,230.35 661.84,230.35 662.44,230.35 663.04,230.35 663.63,230.35 664.23,230.35 664.83,230.35 665.43,230.35 666.03,230.35 666.62,230.35 667.22,230.35 667.82,230.35 668.42,230.35 669.02,230.35 669.62,230.35 670.21,230.35 670.81,230.35 671.41,230.35 672.01,230.35 672.61,230.35 673.20,230.35 673.80,230.35 674.40,230.35" fill="none" stroke="#f51c1c" stroke-width="2.0" stroke-linejoin="round"/>
<line x1="625.30" y1="263.00" x2="638.40" y2="263.00" stroke="#1a1ad0" stroke-width="1.8" />
<line x1="625.30" y1="282.60" x2="638.40" y2="282.60" stroke="#f51c1c" stroke-width="1.8" />
<text transform="translate(642.34 265.20)" font-size="13.2" fill="#000" >P</text>
<text transform="translate(650.97 268.80)" font-size="8.8" fill="#000" >up</text>
<text transform="translate(642.34 284.60)" font-size="13.2" fill="#000" >P</text>
<text transform="translate(651.15 288.20)" font-size="8.8" fill="#000" >down</text>
</svg></body></html>
